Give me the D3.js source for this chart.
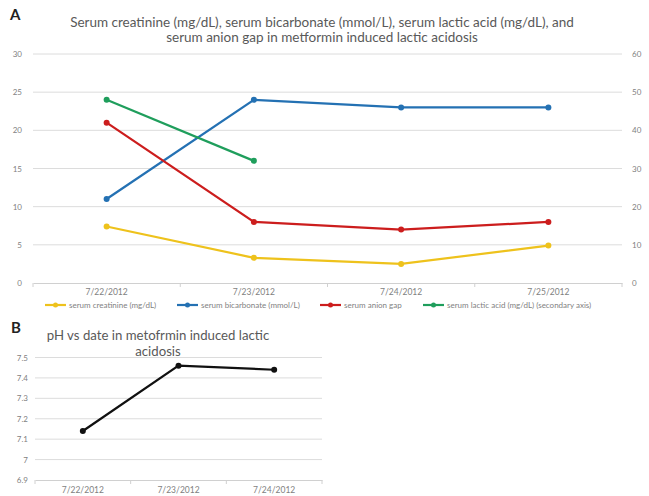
<!DOCTYPE html>
<html><head><meta charset="utf-8">
<script src="https://cdn.jsdelivr.net/npm/d3@7"></script>
<style>body{margin:0;background:#fff}svg{display:block}text{font-family:Lato,"Open Sans",sans-serif}</style>
</head><body>
<svg id="c" width="649" height="496"></svg>
<script>
const dates = ["7/22/2012","7/23/2012","7/24/2012","7/25/2012"];
const creatinine = [7.4, 3.3, 2.5, 4.9];
const bicarbonate = [11, 24, 23, 23];
const anionGap = [21, 8, 7, 8];
const lacticAcid = [48, 32, null, null]; // secondary axis
const leftTicks = [0,5,10,15,20,25,30];
const rightTicks = [0,10,20,30,40,50,60];
const seriesNames = ["serum creatinine (mg/dL)","serum bicarbonate (mmol/L)","serum anion gap","serum lactic acid (mg/dL) (secondary axis)"];
const seriesColors = ["#eec21c","#2471b3","#cc1d1d","#1f9e5c"];

const phDates = ["7/22/2012","7/23/2012","7/24/2012"];
const ph = [7.14, 7.46, 7.44];
const phTicks = [6.9,7,7.1,7.2,7.3,7.4,7.5];

const svg = d3.select("#c");
const grid = "#dcdcdc", lab = "#7f7f7f";

// ---------- Chart A ----------
svg.append("text").attr("x",10).attr("y",20).attr("font-size",15).attr("fill","#222").attr("font-weight","bold").text("A");
const tA = svg.append("text").attr("text-anchor","middle").attr("font-size",13.5).attr("fill","#595959");
tA.append("tspan").attr("x",322).attr("y",27).text("Serum creatinine (mg/dL), serum bicarbonate (mmol/L), serum lactic acid (mg/dL), and");
tA.append("tspan").attr("x",322).attr("y",42).text("serum anion gap  in metformin induced lactic acidosis");

const xA = d3.scaleBand().domain(dates).range([33,622]);
const yA = d3.scaleLinear().domain([0,30]).range([283,54]);
const yA2 = d3.scaleLinear().domain([0,60]).range([283,54]);

const gA = svg.append("g");
gA.selectAll("line.g").data(leftTicks.filter(d=>d>0)).join("line")
  .attr("x1",33).attr("x2",622).attr("y1",d=>yA(d)).attr("y2",d=>yA(d)).attr("stroke",grid).attr("stroke-width",1);
const axA = gA.append("g").attr("transform",`translate(0,${yA(0)})`)
  .call(d3.axisBottom(xA).tickSize(0).tickPadding(6));
axA.select(".domain").attr("stroke","#d0d0d0");
axA.selectAll("text").attr("font-size",8.5).attr("fill",lab);
const bounds = dates.map((d,i)=>xA(d)).concat([xA.range()[1]]);
gA.selectAll("line.tk").data(bounds).join("line")
  .attr("x1",d=>d).attr("x2",d=>d).attr("y1",yA(0)).attr("y2",yA(0)+4).attr("stroke","#d0d0d0");
gA.selectAll("text.l").data(leftTicks).join("text")
  .attr("x",22).attr("y",d=>yA(d)+3).attr("text-anchor","end").attr("font-size",8).attr("fill",lab).text(d=>d);
gA.selectAll("text.r").data(rightTicks).join("text")
  .attr("x",632).attr("y",d=>yA2(d)+3).attr("text-anchor","start").attr("font-size",8).attr("fill",lab).text(d=>d);

const cx = d=>xA(d)+xA.bandwidth()/2;
const seriesA = [
  {vals:creatinine, y:yA},
  {vals:bicarbonate, y:yA},
  {vals:anionGap, y:yA},
  {vals:lacticAcid, y:yA2}
];
seriesA.forEach((s,i)=>{
  const pts = dates.map((d,j)=>({d, v:s.vals[j]})).filter(p=>p.v!=null);
  const line = d3.line().x(p=>cx(p.d)).y(p=>s.y(p.v));
  gA.append("path").datum(pts).attr("d",line).attr("fill","none").attr("stroke",seriesColors[i]).attr("stroke-width",2.2);
  gA.append("g").selectAll("circle").data(pts).join("circle")
    .attr("cx",p=>cx(p.d)).attr("cy",p=>s.y(p.v)).attr("r",3).attr("fill",seriesColors[i]);
});

// legend
const legX = [45,177,320,423];
const lg = svg.append("g");
seriesNames.forEach((n,i)=>{
  const x0 = legX[i], y0 = 305;
  lg.append("line").attr("x1",x0).attr("x2",x0+21).attr("y1",y0).attr("y2",y0).attr("stroke",seriesColors[i]).attr("stroke-width",2.2);
  lg.append("circle").attr("cx",x0+10.5).attr("cy",y0).attr("r",2.5).attr("fill",seriesColors[i]);
  lg.append("text").attr("x",x0+24).attr("y",y0+3).attr("font-size",8).attr("fill",lab).text(n);
});

// ---------- Chart B ----------
svg.append("text").attr("x",11).attr("y",333).attr("font-size",15).attr("fill","#222").attr("font-weight","bold").text("B");
const tB = svg.append("text").attr("text-anchor","middle").attr("font-size",13.2).attr("fill","#595959");
tB.append("tspan").attr("x",158).attr("y",340).text("pH vs date in metofrmin induced lactic");
tB.append("tspan").attr("x",158).attr("y",356).text("acidosis");

const xB = d3.scaleBand().domain(phDates).range([35,322]);
const yB = d3.scaleLinear().domain([6.9,7.5]).range([480,357.5]);
const gB = svg.append("g");
gB.selectAll("line.g").data(phTicks.slice(1)).join("line")
  .attr("x1",35).attr("x2",322).attr("y1",d=>yB(d)).attr("y2",d=>yB(d)).attr("stroke",grid);
const axB = gB.append("g").attr("transform",`translate(0,${yB(6.9)})`)
  .call(d3.axisBottom(xB).tickSize(0).tickPadding(7));
axB.select(".domain").attr("stroke","#d0d0d0");
axB.selectAll("text").attr("font-size",8.5).attr("fill",lab);
const boundsB = phDates.map(d=>xB(d)).concat([xB.range()[1]]);
gB.selectAll("line.tk").data(boundsB).join("line")
  .attr("x1",d=>d).attr("x2",d=>d).attr("y1",yB(6.9)).attr("y2",yB(6.9)+4).attr("stroke","#d0d0d0");
gB.selectAll("text.l").data(phTicks).join("text")
  .attr("x",28).attr("y",d=>yB(d)+3).attr("text-anchor","end").attr("font-size",8).attr("fill",lab).text(d=>d3.format("")(d));
const cxB = d=>xB(d)+xB.bandwidth()/2;
const ptsB = phDates.map((d,j)=>({d, v:ph[j]}));
gB.append("path").datum(ptsB).attr("d",d3.line().x(p=>cxB(p.d)).y(p=>yB(p.v)))
  .attr("fill","none").attr("stroke","#111").attr("stroke-width",2.2);
gB.selectAll("circle").data(ptsB).join("circle")
  .attr("cx",p=>cxB(p.d)).attr("cy",p=>yB(p.v)).attr("r",3).attr("fill","#111");
</script>
</body></html>
